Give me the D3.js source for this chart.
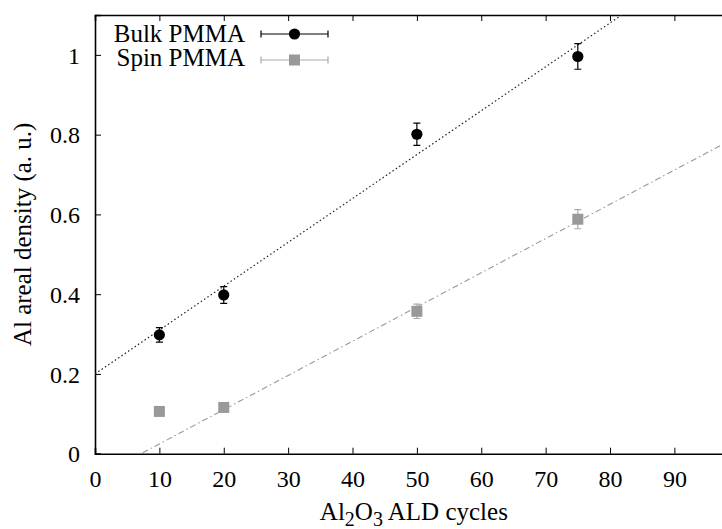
<!DOCTYPE html>
<html>
<head>
<meta charset="utf-8">
<script src="https://cdn.jsdelivr.net/npm/d3@7"></script>
<style>
  html, body { margin: 0; padding: 0; background: #fff; }
  svg { display: block; }
  svg text { font-family: "Liberation Serif", "Times New Roman", Times, serif !important; fill: #000; }
</style>
</head>
<body>
<div id="chart"></div>
<script>
// ---- data ----
const cycles = [10, 20, 50, 75];
const bulkDensity = [0.298, 0.398, 0.801, 0.996];
const bulkErr = [0.018, 0.021, 0.028, 0.032];
const spinDensity = [0.106, 0.116, 0.357, 0.588];
const spinErr = [0.004, 0.005, 0.018, 0.024];
const bulkFitX = [0, 100];
const bulkFitY = [0.2, 1.3];
const spinFitX = [0, 100];
const spinFitY = [-0.0613, 0.797];
const xTicks = [0, 10, 20, 30, 40, 50, 60, 70, 80, 90];
const xTickLabels = ["0", "10", "20", "30", "40", "50", "60", "70", "80", "90"];
const yTicks = [0, 0.2, 0.4, 0.6, 0.8, 1];
const yTickLabels = ["0", "0.2", "0.4", "0.6", "0.8", "1"];
const seriesNames = ["Bulk PMMA", "Spin PMMA"];

// ---- layout ----
const W = 722, H = 529;
const mLeft = 95, mTop = 15, plotW = 643.75, plotH = 438.7;

const svg = d3.select("#chart").append("svg").attr("width", W).attr("height", H);

const x = d3.scaleLinear().domain([0, 100]).range([mLeft, mLeft + plotW]);
const y = d3.scaleLinear().domain([0, 1.1]).range([mTop + plotH, mTop]);

svg.append("defs").append("clipPath").attr("id", "clip")
  .append("rect").attr("x", mLeft).attr("y", mTop).attr("width", plotW).attr("height", plotH);

const FS = 24, FL = 25;

// axes
const gx = svg.append("g").attr("transform", `translate(0,${mTop + plotH})`)
  .call(d3.axisBottom(x).tickValues(xTicks).tickSize(-6).tickFormat((d, i) => xTickLabels[i]));
gx.selectAll("text").attr("y", 33).attr("dy", 0).style("font-size", FS + "px");

const gxt = svg.append("g").attr("transform", `translate(0,${mTop})`)
  .call(d3.axisTop(x).tickValues(xTicks).tickSize(-6).tickFormat(""));

const gy = svg.append("g").attr("transform", `translate(${mLeft},0)`)
  .call(d3.axisLeft(y).tickValues(yTicks).tickSize(-6).tickFormat((d, i) => yTickLabels[i]));
gy.selectAll("text").attr("x", -15).attr("dy", "0.34em").style("font-size", FS + "px");

const gyr = svg.append("g").attr("transform", `translate(${mLeft + plotW},0)`)
  .call(d3.axisRight(y).tickValues(yTicks).tickSize(-6).tickFormat(""));

[gx, gxt, gy, gyr].forEach(g => {
  g.select(".domain").attr("stroke", "#000").attr("stroke-width", 1.6);
  g.selectAll(".tick line").attr("stroke", "#000").attr("stroke-width", 1);
});

// axis labels
const xl = svg.append("text").attr("x", mLeft + plotW / 2 - 3).attr("y", 520)
  .attr("text-anchor", "middle").style("font-size", FL + "px");
xl.append("tspan").text("Al");
xl.append("tspan").attr("dy", 6).style("font-size", "20px").text("2");
xl.append("tspan").attr("dy", -6).text("O");
xl.append("tspan").attr("dy", 6).style("font-size", "20px").text("3");
xl.append("tspan").attr("dy", -6).text(" ALD cycles");

svg.append("text").attr("transform", `translate(31,${mTop + plotH / 2}) rotate(-90)`)
  .attr("text-anchor", "middle").style("font-size", FL + "px")
  .text("Al areal density (a. u.)");

// fit lines
const plot = svg.append("g").attr("clip-path", "url(#clip)");
const line = d3.line().x(d => x(d[0])).y(d => y(d[1]));
plot.append("path").datum(bulkFitX.map((v, i) => [v, bulkFitY[i]]))
  .attr("d", line).attr("fill", "none").attr("stroke", "#222")
  .attr("stroke-width", 1.2).attr("stroke-dasharray", "1.5,2.5");
plot.append("path").datum(spinFitX.map((v, i) => [v, spinFitY[i]]))
  .attr("d", line).attr("fill", "none").attr("stroke", "#999")
  .attr("stroke-width", 1.1).attr("stroke-dasharray", "6,3,1.5,3");

// error bars + markers
function errorBars(vals, errs, color) {
  const g = plot.append("g").attr("stroke", color).attr("stroke-width", 1.2);
  cycles.forEach((c, i) => {
    const cx = x(c), y1 = y(vals[i] - errs[i]), y2 = y(vals[i] + errs[i]);
    g.append("line").attr("x1", cx).attr("x2", cx).attr("y1", y1).attr("y2", y2);
    g.append("line").attr("x1", cx - 3.5).attr("x2", cx + 3.5).attr("y1", y1).attr("y2", y1);
    g.append("line").attr("x1", cx - 3.5).attr("x2", cx + 3.5).attr("y1", y2).attr("y2", y2);
  });
}
errorBars(spinDensity, spinErr, "#aaa");
errorBars(bulkDensity, bulkErr, "#000");

plot.selectAll(".spin").data(cycles).enter().append("rect")
  .attr("x", (d) => x(d) - 5.5).attr("y", (d, i) => y(spinDensity[i]) - 5.5)
  .attr("width", 11).attr("height", 11).attr("fill", "#999");
plot.selectAll(".bulk").data(cycles).enter().append("circle")
  .attr("cx", d => x(d)).attr("cy", (d, i) => y(bulkDensity[i])).attr("r", 5.6).attr("fill", "#000");

// legend
const lg = svg.append("g");
const rows = [
  { name: seriesNames[0], color: "#000", bar: "#000", ty: 42, ly: 34, shape: "circle" },
  { name: seriesNames[1], color: "#999", bar: "#aaa", ty: 66, ly: 60, shape: "square" }
];
rows.forEach(r => {
  lg.append("text").attr("x", 245).attr("y", r.ty).attr("text-anchor", "end")
    .style("font-size", FL + "px").text(r.name);
  const gl = lg.append("g").attr("stroke", r.bar).attr("stroke-width", 1.2);
  gl.append("line").attr("x1", 261).attr("x2", 328).attr("y1", r.ly).attr("y2", r.ly);
  gl.append("line").attr("x1", 261).attr("x2", 261).attr("y1", r.ly - 3.5).attr("y2", r.ly + 3.5);
  gl.append("line").attr("x1", 328).attr("x2", 328).attr("y1", r.ly - 3.5).attr("y2", r.ly + 3.5);
  if (r.shape === "circle") {
    lg.append("circle").attr("cx", 294.5).attr("cy", r.ly).attr("r", 5.6).attr("fill", r.color);
  } else {
    lg.append("rect").attr("x", 289).attr("y", r.ly - 5.5).attr("width", 11).attr("height", 11).attr("fill", r.color);
  }
});
</script>
</body>
</html>
